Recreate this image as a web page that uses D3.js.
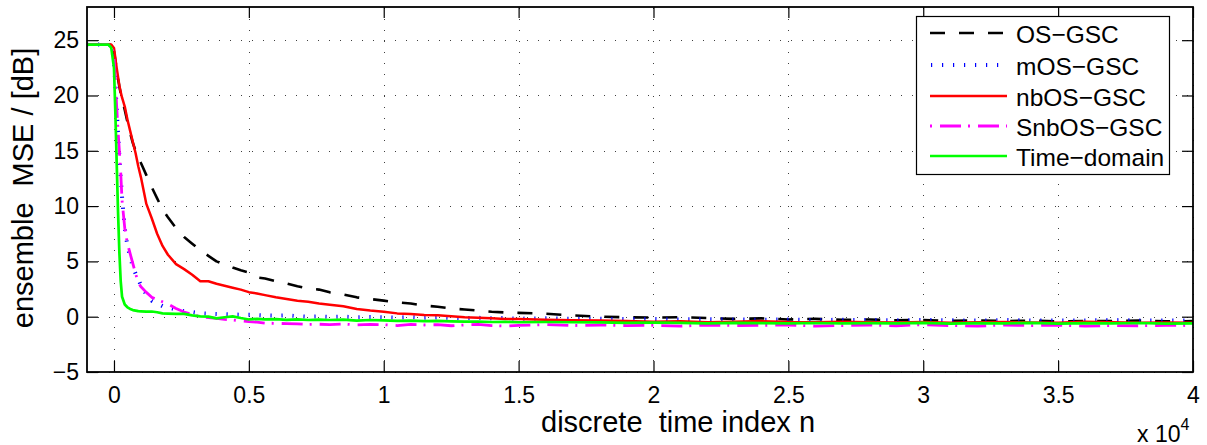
<!DOCTYPE html>
<html>
<head>
<meta charset="utf-8">
<script src="https://cdn.jsdelivr.net/npm/d3@7"></script>
<style>
  html, body { margin: 0; padding: 0; background: #fff; }
  svg { display: block; font-family: "Liberation Sans", Arial, Helvetica, sans-serif; }
</style>
</head>
<body>
<svg id="chart" width="1207" height="445"></svg>
<script>
// Sample index n shared by every curve
const nIndex = [-1000, -200, -100, 0, 50, 100, 150, 200, 250, 300, 400, 500, 600, 700, 800, 900, 1000,
  1200, 1400, 1600, 1800, 2000, 2300, 2600, 2900, 3200, 3500, 3800, 4100, 4400, 4700, 5000, 5300, 5600,
  6000, 6400, 6800, 7200, 7600, 8000, 8500, 9000, 9500, 10000, 10500, 11000, 11500, 12000, 12500, 13000,
  13500, 14000, 14500, 15000, 16000, 17000, 18000, 19000, 20000, 21000, 22000, 23000, 24000, 25000, 26000,
  27000, 28000, 29000, 30000, 31000, 32000, 33000, 34000, 35000, 36000, 37000, 38000, 39000, 40000];

// Ensemble MSE in dB for each adaptive beamformer
const osGsc = [24.6, 24.6, 24.5, 24.0, 23.2, 22.4, 21.5, 20.8, 20.2, 19.7, 18.7, 17.6, 16.6, 15.7, 15.0, 14.5, 13.9,
  12.8, 11.7, 10.7, 9.7, 9.0, 8.0, 7.2, 6.6, 6.0, 5.5, 5.0, 4.75, 4.45, 4.2, 4.0, 3.55, 3.45,
  3.2, 3.0, 2.75, 2.55, 2.45, 2.2, 2.0, 1.75, 1.6, 1.45, 1.3, 1.2, 1.0, 0.9, 0.75, 0.65,
  0.55, 0.45, 0.38, 0.35, 0.27, 0.12, 0.0, -0.05, -0.08, -0.05, -0.12, -0.2, -0.15, -0.25, -0.2,
  -0.28, -0.25, -0.32, -0.3, -0.38, -0.33, -0.4, -0.35, -0.42, -0.38, -0.4, -0.35, -0.42, -0.4];

const mosGsc = [24.6, 24.6, 24.5, 23.2, 21.0, 18.8, 16.5, 14.5, 12.6, 10.8, 8.0, 6.4, 5.4, 4.5, 3.9, 3.4, 2.8,
  2.0, 1.45, 1.2, 0.95, 0.85, 0.65, 0.5, 0.42, 0.3, 0.27, 0.25, 0.22, 0.2, 0.18, 0.18, 0.15, 0.12,
  0.1, 0.12, 0.05, 0.0, 0.02, -0.02, 0.0, -0.05, -0.03, -0.05, -0.08, -0.04, -0.1, -0.06, -0.1, -0.12,
  -0.1, -0.15, -0.12, -0.18, -0.15, -0.2, -0.18, -0.22, -0.2, -0.25, -0.22, -0.25, -0.28, -0.25, -0.3,
  -0.28, -0.3, -0.32, -0.3, -0.33, -0.35, -0.3, -0.35, -0.33, -0.35, -0.3, -0.35, -0.33, -0.35];

const nbosGsc = [24.6, 24.6, 24.6, 24.3, 23.4, 22.5, 21.7, 20.9, 20.3, 19.8, 19.0, 17.8, 16.8, 15.8, 14.8, 13.6, 12.6,
  10.2, 8.9, 7.5, 6.4, 5.6, 4.75, 4.3, 3.8, 3.2, 3.2, 2.98, 2.8, 2.62, 2.45, 2.22, 2.1, 1.95,
  1.75, 1.6, 1.45, 1.35, 1.2, 1.08, 0.95, 0.7, 0.55, 0.45, 0.3, 0.25, 0.15, 0.12, 0.05, -0.04,
  -0.1, -0.15, -0.2, -0.2, -0.28, -0.33, -0.35, -0.4, -0.45, -0.42, -0.5, -0.45, -0.4, -0.48, -0.5,
  -0.45, -0.5, -0.52, -0.48, -0.55, -0.5, -0.48, -0.52, -0.55, -0.45, -0.5, -0.55, -0.52, -0.55];

const snbosGsc = [24.6, 24.6, 24.5, 23.5, 21.5, 19.0, 16.8, 15.0, 13.0, 10.5, 8.0, 6.6, 5.7, 4.8, 3.9, 3.1, 2.7,
  2.2, 1.75, 1.55, 1.35, 1.15, 0.75, 0.42, 0.2, 0.0, -0.08, -0.15, -0.25, -0.3, -0.38, -0.45, -0.5, -0.58,
  -0.6, -0.63, -0.65, -0.7, -0.68, -0.72, -0.66, -0.75, -0.7, -0.72, -0.8, -0.7, -0.75, -0.72, -0.82, -0.75,
  -0.7, -0.8, -0.85, -0.78, -0.72, -0.8, -0.75, -0.8, -0.78, -0.85, -0.75, -0.8, -0.78, -0.75, -0.85,
  -0.8, -0.75, -0.82, -0.72, -0.8, -0.85, -0.75, -0.8, -0.78, -0.85, -0.8, -0.82, -0.78, -0.8];

const timeDomain = [24.6, 24.6, 24.3, 22.5, 18.5, 14.0, 9.5, 5.8, 3.2, 1.8, 1.1, 0.85, 0.7, 0.6, 0.55, 0.5, 0.48,
  0.45, 0.47, 0.4, 0.3, 0.28, 0.25, 0.25, 0.12, 0.03, 0.0, -0.15, -0.05, 0.03, -0.12, -0.25, -0.2, -0.25,
  -0.22, -0.28, -0.25, -0.3, -0.27, -0.3, -0.26, -0.35, -0.3, -0.33, -0.38, -0.35, -0.4, -0.38, -0.42, -0.45,
  -0.44, -0.48, -0.47, -0.5, -0.48, -0.5, -0.52, -0.55, -0.53, -0.55, -0.6, -0.56, -0.58, -0.6, -0.57,
  -0.6, -0.58, -0.6, -0.55, -0.62, -0.58, -0.6, -0.56, -0.62, -0.58, -0.6, -0.57, -0.62, -0.6];

const seriesNames = ["OS\u2212GSC", "mOS\u2212GSC", "nbOS\u2212GSC", "SnbOS\u2212GSC", "Time\u2212domain"];
const seriesValues = [osGsc, mosGsc, nbosGsc, snbosGsc, timeDomain];

const xTicks = [0, 5000, 10000, 15000, 20000, 25000, 30000, 35000, 40000];
const xTickLabels = ["0", "0.5", "1", "1.5", "2", "2.5", "3", "3.5", "4"];
const yTicks = [-5, 0, 5, 10, 15, 20, 25];
const yTickLabels = ["\u22125", "0", "5", "10", "15", "20", "25"];

// Line styles per series
const styles = [
  { color: "#000000", width: 2.6, dash: "15,14", offset: 0 },
  { color: "#0000ff", width: 4, dash: "1.2,9.8", offset: -1 },
  { color: "#ff0000", width: 2.5, dash: null, offset: 0 },
  { color: "#ff00ff", width: 2.8, dash: "21,7,2,8", offset: 28 },
  { color: "#00ff00", width: 2.7, dash: null, offset: 0 }
];

const svg = d3.select("#chart");
const plot = { left: 87, right: 1193, top: 7, bottom: 372 };

const x = d3.scaleLinear().domain([-1000, 40000]).range([plot.left, plot.right]);
const y = d3.scaleLinear().domain([-5, 28]).range([plot.bottom, plot.top]);

// Dotted grid
const grid = svg.append("g").attr("stroke", "#000").attr("stroke-width", 1)
  .attr("stroke-dasharray", "1,10").attr("opacity", 0.75);
grid.selectAll("line.vx").data(xTicks).join("line")
  .attr("x1", d => Math.round(x(d)) + 0.5).attr("x2", d => Math.round(x(d)) + 0.5)
  .attr("y1", plot.bottom).attr("y2", plot.top);
grid.selectAll("line.hy").data(yTicks).join("line")
  .attr("y1", d => Math.round(y(d)) + 0.5).attr("y2", d => Math.round(y(d)) + 0.5)
  .attr("x1", plot.left).attr("x2", plot.right);

// Curves
svg.append("clipPath").attr("id", "plotClip").append("rect")
  .attr("x", plot.left).attr("y", plot.top)
  .attr("width", plot.right - plot.left).attr("height", plot.bottom - plot.top);

const line = d3.line().x((d, i) => x(nIndex[i])).y(d => y(d));
const curves = svg.append("g").attr("clip-path", "url(#plotClip)");
seriesValues.forEach((vals, k) => {
  const s = styles[k];
  curves.append("path").datum(vals)
    .attr("d", line)
    .attr("fill", "none")
    .attr("stroke", s.color)
    .attr("stroke-width", s.width)
    .attr("stroke-linejoin", "round")
    .attr("stroke-dasharray", s.dash);
});

// Axes with inward ticks on all four sides
const tickLen = 11;
const xAxisB = d3.axisBottom(x).tickValues(xTicks).tickSize(-tickLen).tickPadding(15)
  .tickFormat((d, i) => xTickLabels[i]);
const xAxisT = d3.axisTop(x).tickValues(xTicks).tickSize(-tickLen).tickFormat("");
const yAxisL = d3.axisLeft(y).tickValues(yTicks).tickSize(-tickLen).tickPadding(8)
  .tickFormat((d, i) => yTickLabels[i]);
const yAxisR = d3.axisRight(y).tickValues(yTicks).tickSize(-tickLen).tickFormat("");

function styleAxis(g) {
  g.select(".domain").remove();
  g.selectAll(".tick line").attr("stroke", "#000").attr("stroke-width", 1.2);
  g.selectAll(".tick text").attr("fill", "#000").attr("font-size", 23)
    .attr("font-family", "Liberation Sans, Arial, sans-serif");
}
svg.append("g").attr("transform", `translate(0,${plot.bottom})`).call(xAxisB).call(styleAxis);
svg.append("g").attr("transform", `translate(0,${plot.top})`).call(xAxisT).call(styleAxis);
svg.append("g").attr("transform", `translate(${plot.left},0)`).call(yAxisL).call(styleAxis);
svg.append("g").attr("transform", `translate(${plot.right},0)`).call(yAxisR).call(styleAxis);

// Axes box
svg.append("rect")
  .attr("x", plot.left).attr("y", plot.top)
  .attr("width", plot.right - plot.left).attr("height", plot.bottom - plot.top)
  .attr("fill", "none").attr("stroke", "#000").attr("stroke-width", 1.8);

// Axis labels
svg.append("text")
  .attr("x", 541).attr("y", 432)
  .attr("font-size", 29).attr("fill", "#000")
  .style("white-space", "pre")
  .text("discrete  time index n");

svg.append("text")
  .attr("transform", "translate(33,188) rotate(-90)")
  .attr("text-anchor", "middle")
  .attr("font-size", 29).attr("fill", "#000")
  .style("white-space", "pre")
  .text("ensemble  MSE / [dB]");

// Exponent of the x axis
const expo = svg.append("text").attr("x", 1137).attr("y", 442).attr("font-size", 23).attr("fill", "#000");
expo.append("tspan").text("x 10");
expo.append("tspan").attr("dy", -12).attr("font-size", 16).text("4");

// Legend
const legend = svg.append("g");
legend.append("rect")
  .attr("x", 916.5).attr("y", 16.5).attr("width", 253).attr("height", 158)
  .attr("fill", "#fff").attr("stroke", "#000").attr("stroke-width", 1.2);
const rowY = [33, 65, 96, 126, 156];
seriesNames.forEach((name, k) => {
  const s = styles[k];
  legend.append("line")
    .attr("x1", 930).attr("x2", 1007).attr("y1", rowY[k]).attr("y2", rowY[k])
    .attr("stroke", s.color).attr("stroke-width", s.width)
    .attr("stroke-dasharray", s.dash)
    .attr("stroke-dashoffset", s.offset);
  legend.append("text")
    .attr("x", 1016).attr("y", rowY[k]).attr("dy", "0.4em")
    .attr("font-size", 24.5).attr("fill", "#000")
    .text(name);
});
</script>
</body>
</html>
